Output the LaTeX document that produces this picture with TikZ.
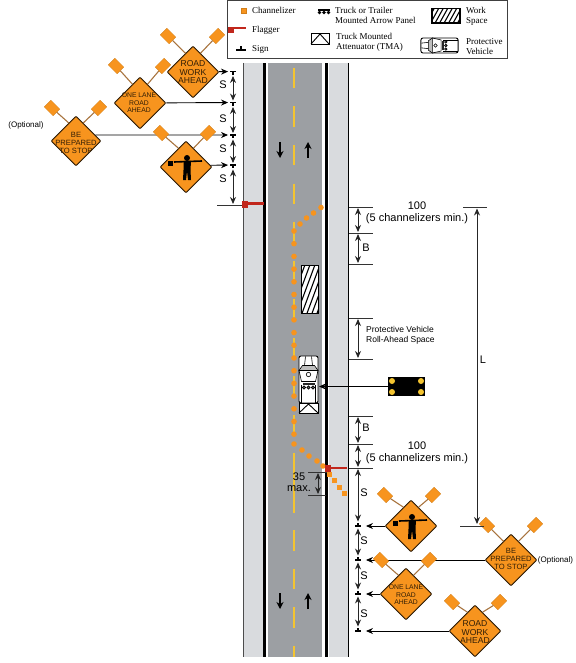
\documentclass[tikz,border=0pt]{standalone}
\usepackage{fontspec}
\setmainfont{Liberation Sans}
\newfontfamily\legendfont{Liberation Serif}
\usetikzlibrary{shapes.geometric, arrows.meta}

\definecolor{roadgray}{HTML}{9C9FA3}
\definecolor{shouldergray}{HTML}{D9DBDE}
\definecolor{linecolor}{HTML}{F4C430}
\definecolor{conecolor}{HTML}{F7941E}
\definecolor{flagred}{HTML}{C1271C}
\definecolor{staffcolor}{HTML}{A8743F}

\tikzset{
  sign/.style={diamond, draw=black!85!conecolor, fill=conecolor, line width=0.9pt, rounded corners=1pt, inner sep=0pt, minimum size=52pt},
  signtext/.style={align=center, text=black!80!conecolor, font=\fontsize{7.6}{8}\selectfont, inner sep=0pt},
  smalltext/.style={signtext, font=\fontsize{6.8}{7.4}\selectfont},
  bigtext/.style={signtext, font=\fontsize{8.6}{8.8}\selectfont},
  flag/.style={rectangle, fill=conecolor, draw=conecolor!85!black, line width=0.3pt, minimum width=12.5pt, minimum height=9.5pt, inner sep=0pt},
  staff/.style={staffcolor, line width=1.1pt},
  cone/.style={fill=conecolor},
  post/.style={rectangle, fill=black, minimum width=5.5pt, minimum height=1.5pt, inner sep=0pt},
  dimline/.style={black!85, line width=0.9pt, {Stealth[length=7pt,width=6pt]}-{Stealth[length=7pt,width=6pt]}},
  tickline/.style={black!80, line width=0.7pt},
  signline/.style={black, line width=0.9pt, -{Stealth[length=7pt,width=6pt]}},
  label11/.style={font=\fontsize{11}{12.5}\selectfont, inner sep=0pt},
  legendtext/.style={font=\legendfont\fontsize{9}{10}\selectfont, align=left, anchor=west, inner sep=0pt},
  flagman/.pic={
    \fill (1,-9) circle(3);
    \draw[line width=1.6pt] (-12,-5) -- (16,-6);
    \fill (-2.5,-6) -- (5,-6) -- (4.5,3) -- (5,13) -- (2,13) -- (1,4) -- (0,13) -- (-3,13) -- (-2.5,3) -- cycle;
    \fill (-18,-5.5) rectangle (-13,-0.5);
  },
  protcar/.pic={
    \draw[fill=white, line width=0.9pt, rounded corners=2pt] (-9.5,-23.5) rectangle (9.5,23.5);
    \fill[black!25] (-9,-9) -- (-6,-14) -- (6,-14) -- (9,-9) -- cycle;
    \draw[line width=0.6pt] (-9.5,-9) -- (-6,-14) -- (6,-14) -- (9.5,-9) -- cycle;
    \draw[line width=0.6pt] (-3,-23) -- (-4,-14) (3,-23) -- (4,-14);
    \draw[line width=0.6pt] (-9.5,-9) -- (-7,2) -- (7,2) -- (9.5,-9);
    \draw[line width=0.6pt] (0,-5) circle(2.2);
    \fill[black!85] (-6,3) rectangle (6,5.5);
    \foreach \dx in {-4.5,0,4.5} {\draw[line width=0.6pt, fill=black!60] (\dx,8) circle(1.6);}
    \draw[line width=0.6pt] (-7,5) -- (-7,23) (7,5) -- (7,23);
  }
}

\begin{document}
\begin{tikzpicture}[x=1pt, y=-1pt]
  \useasboundingbox (0,0) rectangle (575,663);

  % Road
  \fill[shouldergray] (243,63) rectangle (263,657);
  \fill[shouldergray] (329,63) rectangle (348,657);
  \fill[roadgray] (268,63) rectangle (322,657);
  \fill[black] (263,63) rectangle (266,657);
  \fill[black] (325,63) rectangle (328,657);
  \draw[black!70, line width=0.7pt] (243,63) -- (243,657);
  \draw[black, line width=0.7pt] (348,63) -- (348,657);

  % Centre line
  \draw[linecolor, line width=2.4pt, dash pattern=on 20.5pt off 18pt] (294,68) -- (294,657);
  \draw[linecolor, line width=2.4pt] (294,453) -- (294,513);

  % Traffic arrows
  \foreach \y in {142,593} {
    \draw[black, line width=1.8pt, -{Stealth[length=7pt,width=7pt]}] (280,\y) -- (280,\y+16);
    \draw[black, line width=1.8pt, -{Stealth[length=7pt,width=7pt]}] (308,\y+16) -- (308,\y);
  }

  % Work space
  \begin{scope}
    \clip (301,265) rectangle (318.5,313.5);
    \fill[white] (301,265) rectangle (318.5,313.5);
    \foreach \n in {0,...,13} {
      \draw[black, line width=1.1pt] (276+\n*5,316) -- (276+\n*5+20,262);
    }
  \end{scope}
  \draw[black, line width=1pt] (301,265) rectangle (318.5,313.5);

  % Channelizers
  \foreach \x/\y in {321/207.5, 313.5/213, 306.5/218, 300/224, 302/450, 309/456, 317/461, 323/466, 294/444} {
    \fill[cone] (\x,\y) circle(2.8);
  }
  \foreach \n in {0,...,16} {
    \fill[cone] (294,231+\n*12.7) circle(2.8);
  }
  \foreach \x/\y in {329/474, 334.5/480, 339.5/487, 344.5/493} {
    \fill[cone] (\x-2.5,\y-2.5) rectangle ++(5,5);
  }

  % Protective vehicle with TMA
  \pic at (308.5,379.5) {protcar};
  \draw[fill=white, line width=0.9pt] (299,403) rectangle (318,413);
  \draw[line width=0.9pt] (299,413) -- (308.5,404) -- (318,413);

  % Arrow panel
  \node[rectangle, fill=black, minimum width=37pt, minimum height=19pt, inner sep=0pt] (panel) at (406.5,386.5) {};
  \foreach \x/\y in {392/381, 421/381, 392/392, 421/392} {
    \fill[linecolor] (\x,\y) circle(3);
  }
  \coordinate (carSide) at (319,386.5);
  \draw[signline] (panel) -- (carSide);

  % Flaggers
  \fill[flagred] (242,201) rectangle (248,208);
  \fill[flagred] (246,202) rectangle (264,204.5);
  \fill[flagred] (325,465) rectangle (331,472);
  \fill[flagred] (329,466.5) rectangle (347,469);

  % Signs, left of the road
  \node[sign] (oneL) at (140,103) {};
  \node[sign] (roadL) at (193,72) {};
  \node[sign, minimum size=50pt] (beL) at (76,141) {};
  \node[sign] (flagmanL) at (186,167) {};
  \node[bigtext] (roadLtxt) at (193,72) {ROAD\\WORK\\AHEAD};
  \node[smalltext] (oneLtxt) at (139,103) {ONE LANE\\ROAD\\AHEAD};
  \node[signtext] (beLtxt) at (76,143) {BE\\PREPARED\\TO STOP};
  \pic at (186,167) {flagman};

  % Signs, right of the road
  \node[sign] (flagmanR) at (411,526) {};
  \node[sign] (beR) at (511,560) {};
  \node[sign] (oneR) at (406,594) {};
  \node[sign] (roadR) at (475,631) {};
  \pic at (411,526) {flagman};
  \node[signtext] (beRtxt) at (511,559) {BE\\PREPARED\\TO STOP};
  \node[smalltext] (oneRtxt) at (406,595) {ONE LANE\\ROAD\\AHEAD};
  \node[bigtext] (roadRtxt) at (475,632) {ROAD\\WORK\\AHEAD};

  % Sign positions and spacing
  \foreach \name/\y in {postA/71.5, postB/102.5, postC/135, postD/165} {
    \node[post] (\name) at (233,\y) {};
    \draw[black, line width=1.2pt] (233,\y) -- (233,\y+3.5);
  }
  \foreach \name/\y in {postE/526, postF/560, postG/594, postH/631} {
    \node[post] (\name) at (358,\y) {};
    \draw[black, line width=1.2pt] (358,\y) -- (358,\y-3.5);
  }
  \coordinate (flagL) at (233,205);
  \draw[tickline] (217,205) -- (242,205);
  \draw[dimline, shorten <=3.5pt, shorten >=1pt] (postA) -- (postB);
  \draw[dimline, shorten <=3.5pt, shorten >=1pt] (postB) -- (postC);
  \draw[dimline, shorten <=3.5pt, shorten >=1pt] (postC) -- (postD);
  \draw[dimline, shorten <=3.5pt, shorten >=1pt] (postD) -- (flagL);
  \foreach \y in {85,119,149,179} {
    \node[label11] at (223,\y) {S};
  }

  \draw[signline, shorten >=2pt] (roadL) -- (postA);
  \draw[signline, shorten >=2pt] (oneL) -- (postB);
  \draw[signline, shorten >=2pt] (beL.17.5) -- (postC);
  \draw[signline, shorten >=2pt] (flagmanL.4.7) -- (postD);
  \draw[signline, shorten >=5pt] (flagmanR) -- (postE);
  \draw[signline, shorten >=5pt] (beR) -- (postF);
  \draw[signline, shorten >=5pt] (oneR) -- (postG);
  \draw[signline, shorten >=5pt] (roadR) -- (postH);

  % Flags on the signs
  \foreach \sgn/\ax/\bx/\fy in {oneL/116/163/66, roadL/168/217/36, beL/52/99/108, flagmanL/161/208/133, flagmanR/385/433/495, beR/487/535/525, oneR/381/429/560, roadR/452/499/602} {
    \node[flag, rotate=-45] (\sgn a) at (\ax,\fy) {};
    \node[flag, rotate=45] (\sgn b) at (\bx,\fy) {};
    \draw[staff] (\sgn a) -- (\sgn.112);
    \draw[staff] (\sgn b) -- (\sgn.68);
  }

  % Dimensions right of the road
  \foreach \name/\y in {dimA/207, dimB/233, dimC/264, dimD/318, dimE/359, dimF/416, dimG/444, dimH/468} {
    \coordinate (\name) at (358,\y);
    \draw[tickline] (349,\y) -- (373,\y);
  }
  \draw[dimline, shorten <=1pt, shorten >=1pt] (dimA) -- (dimB);
  \draw[dimline, shorten <=1pt, shorten >=1pt] (dimB) -- (dimC);
  \draw[dimline, shorten <=1pt, shorten >=1pt] (dimD) -- (dimE);
  \draw[dimline, shorten <=1pt, shorten >=1pt] (dimF) -- (dimG);
  \draw[dimline, shorten <=1pt, shorten >=1pt] (dimG) -- (dimH);
  \draw[dimline, shorten <=1pt, shorten >=3.5pt] (dimH) -- (postE);
  \draw[dimline, shorten <=1.5pt, shorten >=3.5pt] (postE) -- (postF);
  \draw[dimline, shorten <=1.5pt, shorten >=3.5pt] (postF) -- (postG);
  \draw[dimline, shorten <=1.5pt, shorten >=3.5pt] (postG) -- (postH);
  \foreach \y in {493,541,576,614} {
    \node[label11] at (364,\y) {S};
  }
  \node[label11] at (366,248) {B};
  \node[label11] at (366,428) {B};
  \node[label11, align=center] at (417,213) {100\\(5 channelizers min.)};
  \node[label11, align=center] at (417,453) {100\\(5 channelizers min.)};
  \node[anchor=west, align=left, inner sep=0pt, font=\fontsize{8.5}{9.5}\selectfont] at (366,335.5) {Protective Vehicle\\Roll-Ahead Space};

  % Distance L
  \coordinate (lTop) at (477,207);
  \coordinate (lBottom) at (477,526);
  \draw[tickline] (463,207) -- (487,207);
  \draw[tickline] (460,526) -- (484,526);
  \draw[dimline, shorten <=1.5pt, shorten >=2pt] (lTop) -- (lBottom);
  \node[label11] at (483,360) {L};

  % Taper end
  \coordinate (taperA) at (318,472);
  \coordinate (taperB) at (318,495);
  \draw[tickline] (308,472) -- (327,472);
  \draw[tickline] (308,495) -- (326,495);
  \draw[dimline, shorten <=1pt, shorten >=1pt] (taperA) -- (taperB);
  \node[label11, align=center] at (299,482) {35\\[-1pt]max.};

  % Optional labels
  \node[font=\fontsize{8}{9}\selectfont, inner sep=0pt] at (26,125) {(Optional)};
  \node[font=\fontsize{8}{9}\selectfont, inner sep=0pt] at (555.5,560) {(Optional)};

  % Legend
  \draw[black!75, fill=white, line width=0.9pt] (227,0.5) rectangle (507,58);
  \fill[cone, draw=conecolor!85!black, line width=0.3pt] (241.5,8) rectangle (246.5,13);
  \node[legendtext] at (252,10) {Channelizer};
  \fill[flagred] (228,27.5) rectangle (234,33);
  \fill[flagred] (232,27.5) rectangle (246,29.5);
  \node[legendtext] at (252,30) {Flagger};
  \fill[black] (235.5,49) rectangle (246,51);
  \fill[black] (240,46) rectangle (242,50);
  \node[legendtext] at (252,49.5) {Sign};

  \fill[black] (318,9) rectangle (330,11.5);
  \foreach \x in {319.5,324,328.5} {
    \fill[black] (\x,12.5) circle(1.9);
  }
  \node[legendtext] at (335,15.5) {Truck or Trailer\\Mounted Arrow Panel};
  \draw[fill=white, line width=0.9pt] (311,33.5) rectangle (329,44);
  \draw[line width=0.9pt] (311,44) -- (320,34) -- (329,44);
  \node[legendtext] at (336,42.5) {Truck Mounted\\Attenuator (TMA)};

  \begin{scope}
    \clip (432,8.5) rectangle (460,23);
    \fill[white] (432,8.5) rectangle (460,23);
    \foreach \n in {0,...,9} {
      \draw[black, line width=1.1pt] (425+\n*4.5,25) -- (425+\n*4.5+10,7);
    }
  \end{scope}
  \draw[black, line width=1.1pt] (432,8.5) rectangle (460,23);
  \node[legendtext] at (466,16) {Work\\Space};
  \pic[rotate=90, scale=0.79] at (439.5,45.5) {protcar};
  \node[legendtext] at (466,47) {Protective\\Vehicle};
\end{tikzpicture}
\end{document}
